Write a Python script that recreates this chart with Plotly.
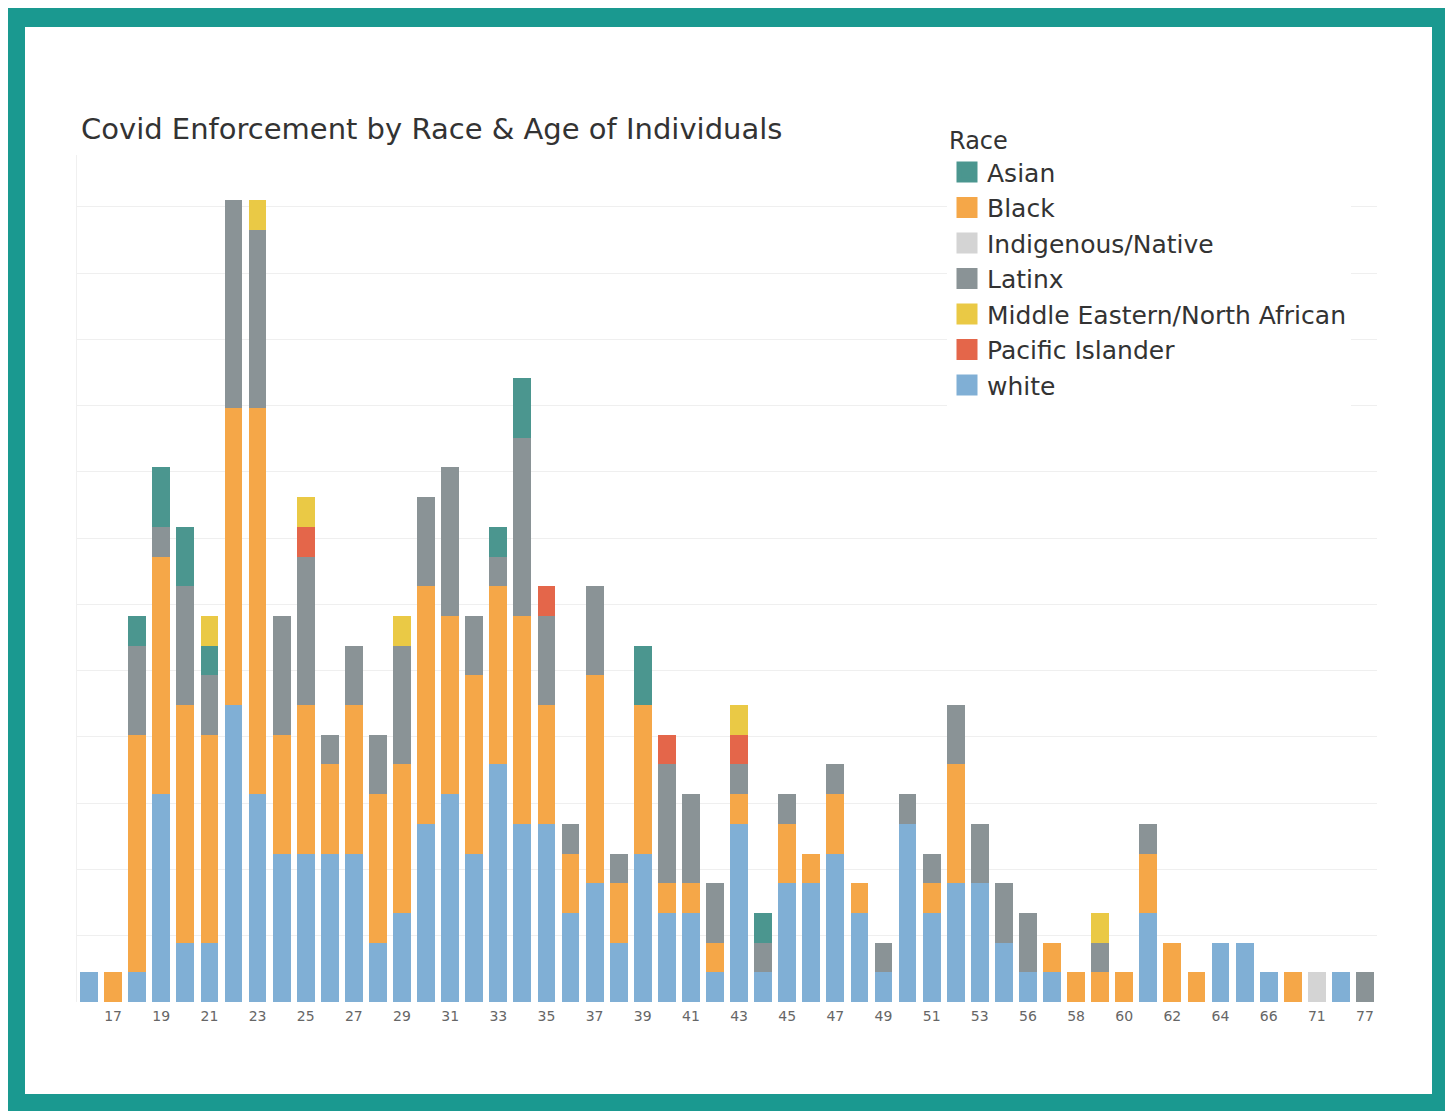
import plotly.graph_objects as go

# ---------------- data ----------------
ages = [16, 17, 18, 19, 20, 21, 22, 23, 24, 25, 26, 27, 28, 29, 30, 31, 32, 33, 34, 35,
        36, 37, 38, 39, 40, 41, 42, 43, 44, 45, 46, 47, 48, 49, 50, 51, 52, 53, 55, 56,
        57, 58, 59, 60, 61, 62, 63, 64, 65, 66, 68, 71, 74, 77]

white = [1, 0, 1, 7, 2, 2, 10, 7, 5, 5, 5, 5, 2, 3, 6, 7, 5, 8, 6, 6,
         3, 4, 2, 5, 3, 3, 1, 6, 1, 4, 4, 5, 3, 1, 6, 3, 4, 4, 2, 1,
         1, 0, 0, 0, 3, 0, 0, 2, 2, 1, 0, 0, 1, 0]
black = [0, 1, 8, 8, 8, 7, 10, 13, 4, 5, 3, 5, 5, 5, 8, 6, 6, 6, 7, 4,
         2, 7, 2, 5, 1, 1, 1, 1, 0, 2, 1, 2, 1, 0, 0, 1, 4, 0, 0, 0,
         1, 1, 1, 1, 2, 2, 1, 0, 0, 0, 1, 0, 0, 0]
indigenous = [0, 0, 0, 0, 0, 0, 0, 0, 0, 0, 0, 0, 0, 0, 0, 0, 0, 0, 0, 0,
              0, 0, 0, 0, 0, 0, 0, 0, 0, 0, 0, 0, 0, 0, 0, 0, 0, 0, 0, 0,
              0, 0, 0, 0, 0, 0, 0, 0, 0, 0, 0, 1, 0, 0]
latinx = [0, 0, 3, 1, 4, 2, 7, 6, 4, 5, 1, 2, 2, 4, 3, 5, 2, 1, 6, 3,
          1, 3, 1, 0, 4, 3, 2, 1, 1, 1, 0, 1, 0, 1, 1, 1, 2, 2, 2, 2,
          0, 0, 1, 0, 1, 0, 0, 0, 0, 0, 0, 0, 0, 1]
asian = [0, 0, 1, 2, 2, 1, 0, 0, 0, 0, 0, 0, 0, 0, 0, 0, 0, 1, 2, 0,
         0, 0, 0, 2, 0, 0, 0, 0, 1, 0, 0, 0, 0, 0, 0, 0, 0, 0, 0, 0,
         0, 0, 0, 0, 0, 0, 0, 0, 0, 0, 0, 0, 0, 0]
pacific = [0, 0, 0, 0, 0, 0, 0, 0, 0, 1, 0, 0, 0, 0, 0, 0, 0, 0, 0, 1,
           0, 0, 0, 0, 1, 0, 0, 1, 0, 0, 0, 0, 0, 0, 0, 0, 0, 0, 0, 0,
           0, 0, 0, 0, 0, 0, 0, 0, 0, 0, 0, 0, 0, 0]
mena = [0, 0, 0, 0, 0, 1, 0, 1, 0, 1, 0, 0, 0, 1, 0, 0, 0, 0, 0, 0,
        0, 0, 0, 0, 0, 0, 0, 1, 0, 0, 0, 0, 0, 0, 0, 0, 0, 0, 0, 0,
        0, 0, 1, 0, 0, 0, 0, 0, 0, 0, 0, 0, 0, 0]

race_names = ["Asian", "Black", "Indigenous/Native", "Latinx",
              "Middle Eastern/North African", "Pacific Islander", "white"]
race_colors = {
    "Asian": "#4b968f",
    "Black": "#f5a748",
    "Indigenous/Native": "#d4d4d4",
    "Latinx": "#8a9396",
    "Middle Eastern/North African": "#eac945",
    "Pacific Islander": "#e4664a",
    "white": "#80afd5",
}
race_values = {
    "Asian": asian, "Black": black, "Indigenous/Native": indigenous,
    "Latinx": latinx, "Middle Eastern/North African": mena,
    "Pacific Islander": pacific, "white": white,
}
stack_order = ["white", "Indigenous/Native", "Black", "Latinx", "Asian",
               "Pacific Islander", "Middle Eastern/North African"]

x_labels = [str(a) for a in ages]

# ---------------- geometry helpers ----------------
# the page body has an 8px margin, so targets (page pixels) are shifted by OFF
OFF = 8
PAGE_W, PAGE_H = 1453, 1111
W, H = PAGE_W - OFF, PAGE_H - OFF
L = 77 - OFF
T = 155 - OFF
R = W - (1377 - OFF)
B = H - (1002 - OFF)
pw, ph = W - L - R, H - T - B


def px2x(p):
    return (p - OFF - L) / pw


def px2y(p):
    return (H - B - (p - OFF)) / ph


fig = go.Figure()

# legend entries (alphabetical order like the reference)
for name in race_names:
    fig.add_trace(go.Scatter(
        x=[None], y=[None], mode="markers", name=name, legendgroup=name,
        marker=dict(symbol="square", size=16, color=race_colors[name],
                    line=dict(color=race_colors[name], width=5)),
        hoverinfo="skip",
    ))

# stacked bars
for name in stack_order:
    fig.add_trace(go.Bar(
        x=x_labels, y=race_values[name], name=name, legendgroup=name,
        showlegend=False, marker=dict(color=race_colors[name], line=dict(width=0)),
    ))

frame_color = "#1a9990"
fig.update_layout(
    width=W, height=H,
    margin=dict(l=L, r=R, t=T, b=B, autoexpand=False),
    barmode="stack", bargap=0.26,
    paper_bgcolor="white", plot_bgcolor="rgba(0,0,0,0)",
    font=dict(family="DejaVu Sans", color="#333333"),
    title=dict(text="Covid Enforcement by Race &amp; Age of Individuals",
               x=(81 - OFF) / W, xanchor="left", xref="container",
               y=1 - (129 - OFF) / H, yanchor="middle", yref="container",
               font=dict(size=29, color="#333333")),
    legend=dict(
        title=dict(text="Race", font=dict(size=24, color="#333333")),
        font=dict(size=25, color="#333333"),
        x=px2x(947), xanchor="left", y=px2y(118), yanchor="top",
        bgcolor="white", tracegroupgap=0, itemclick="toggle",
    ),
    xaxis=dict(
        type="category", categoryorder="array", categoryarray=x_labels,
        tickmode="array", tickvals=x_labels[1::2],
        showgrid=False, zeroline=False, showline=False, ticks="",
        ticklabelstandoff=4,
        tickfont=dict(size=14, color="#666666"),
        range=[-0.5, len(x_labels) - 0.5],
    ),
    yaxis=dict(
        range=[0, 28.52], tick0=0, dtick=2.231,
        showticklabels=False, ticks="",
        showgrid=True, gridcolor="#efefef", gridwidth=1,
        zeroline=False, showline=True, linecolor="#f0f0f0", linewidth=1,
    ),
    shapes=[
        dict(type="rect", xref="paper", yref="paper", layer="below",
             x0=px2x(3), x1=px2x(PAGE_W + 5), y0=px2y(PAGE_H + 5), y1=px2y(6),
             fillcolor=frame_color, line=dict(width=0)),
        dict(type="rect", xref="paper", yref="paper", layer="below",
             x0=px2x(25), x1=px2x(1432), y0=px2y(1094), y1=px2y(27),
             fillcolor="white", line=dict(width=0)),
    ],
)

fig.write_html("out.html")
